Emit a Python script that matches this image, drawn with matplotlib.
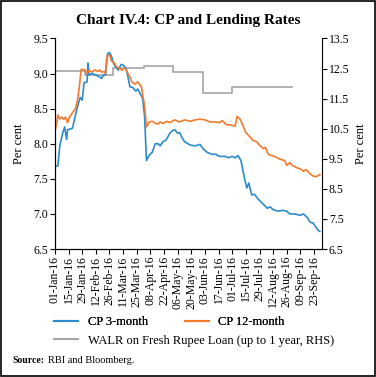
import pandas as pd
import matplotlib
matplotlib.use("Agg")
import matplotlib.pyplot as plt
import matplotlib.dates as mdates
from matplotlib.lines import Line2D
from matplotlib.patches import Rectangle

# CP 3-month (LHS), per cent
cp3_dates = [
    "01-01", "01-04", "01-06", "01-09", "01-11", "01-13", "01-14", "01-19", "01-22", "01-25",
    "01-27", "01-29", "01-31", "02-03", "02-04", "02-05", "02-08", "02-12", "02-16", "02-18",
    "02-20", "02-22", "02-24", "02-26", "02-28", "03-01", "03-03", "03-06", "03-09", "03-11",
    "03-14", "03-16", "03-18", "03-21", "03-24", "03-26", "03-29", "03-31", "04-02", "04-04",
    "04-07", "04-10", "04-13", "04-16", "04-18", "04-21", "04-24", "04-28", "04-30", "05-03",
    "05-06", "05-08", "05-10", "05-13", "05-19", "05-24", "05-29", "06-01", "06-05", "06-10",
    "06-14", "06-18", "06-24", "06-27", "07-01", "07-04", "07-07", "07-10", "07-14", "07-16",
    "07-18", "07-21", "07-24", "07-27", "08-01", "08-06", "08-09", "08-12", "08-17", "08-22",
    "08-26", "08-29", "09-03", "09-09", "09-12", "09-16", "09-19", "09-22", "09-25", "09-27",
    "09-29",
]
cp3_vals = [
    7.68, 7.68, 7.97, 8.15, 8.24, 8.06, 8.20, 8.22, 8.40, 8.57,
    8.66, 8.62, 8.87, 8.88, 9.15, 8.98, 9.00, 8.98, 8.95, 8.93,
    8.98, 8.98, 9.28, 9.30, 9.25, 9.15, 9.10, 9.05, 9.13, 9.12,
    9.08, 8.95, 8.81, 8.80, 8.75, 8.78, 8.70, 8.65, 8.40, 7.76,
    7.84, 7.88, 8.00, 8.00, 7.97, 8.03, 8.05, 8.15, 8.18, 8.20,
    8.15, 8.16, 8.10, 8.03, 7.98, 7.97, 7.99, 7.93, 7.88, 7.85,
    7.85, 7.82, 7.82, 7.80, 7.82, 7.80, 7.83, 7.76, 7.48, 7.37,
    7.44, 7.27, 7.28, 7.22, 7.15, 7.08, 7.10, 7.06, 7.04, 7.05,
    7.04, 7.00, 7.00, 6.98, 7.00, 6.95, 6.88, 6.87, 6.81, 6.77,
    6.75,
]

# CP 12-month (LHS), per cent
cp12_dates = [
    "01-01", "01-03", "01-04", "01-06", "01-08", "01-10", "01-12", "01-14", "01-16", "01-18",
    "01-22", "01-24", "01-26", "01-28", "02-01", "02-03", "02-05", "02-08", "02-11", "02-14",
    "02-16", "02-18", "02-21", "02-22", "02-23", "02-24", "02-26", "02-28", "03-02", "03-04",
    "03-06", "03-10", "03-13", "03-16", "03-18", "03-20", "03-23", "03-26", "03-28", "03-30",
    "03-31", "04-02", "04-04", "04-07", "04-10", "04-13", "04-16", "04-18", "04-21", "04-25",
    "04-28", "05-03", "05-08", "05-13", "05-19", "05-24", "05-29", "06-03", "06-08", "06-13",
    "06-18", "06-21", "06-25", "06-29", "07-04", "07-06", "07-09", "07-12", "07-15", "07-19",
    "07-22", "07-26", "07-29", "08-02", "08-04", "08-07", "08-11", "08-15", "08-19", "08-24",
    "08-26", "08-29", "09-01", "09-05", "09-09", "09-12", "09-15", "09-19", "09-22", "09-25",
    "09-29",
]
cp12_vals = [
    8.17, 8.30, 8.41, 8.35, 8.38, 8.35, 8.38, 8.30, 8.38, 8.42,
    8.50, 8.60, 8.80, 9.06, 9.05, 9.00, 9.05, 9.02, 9.05, 9.03,
    9.05, 9.02, 9.03, 9.00, 9.20, 9.25, 9.27, 9.18, 9.15, 9.10,
    9.08, 9.05, 9.08, 9.00, 8.95, 8.88, 8.85, 8.88, 8.85, 8.80,
    8.70, 8.55, 8.24, 8.31, 8.32, 8.29, 8.28, 8.31, 8.29, 8.32,
    8.30, 8.34, 8.31, 8.34, 8.32, 8.34, 8.35, 8.34, 8.31, 8.31,
    8.30, 8.33, 8.27, 8.27, 8.25, 8.39, 8.35, 8.26, 8.16, 8.10,
    8.05, 8.03, 7.98, 7.93, 7.95, 7.85, 7.83, 7.81, 7.78, 7.76,
    7.69, 7.73, 7.69, 7.66, 7.64, 7.61, 7.63, 7.57, 7.54, 7.53,
    7.56,
]

# WALR on fresh rupee loans (RHS), monthly, per cent
walr_dates = ["01-01", "02-01", "03-01", "04-01", "05-01", "06-01", "07-01", "08-01", "08-31"]
walr_vals = [12.42, 12.27, 12.52, 12.60, 12.37, 11.67, 11.90, 11.88, 11.88]

BLUE = "#2c8ccb"
ORANGE = "#f47a2e"
GREY = "#a5a5a5"


def to_dates(md):
    return pd.to_datetime(["2016-" + d for d in md])


def draw():
    plt.rcParams["font.family"] = "Liberation Serif"
    fig = plt.figure(figsize=(3.76, 3.77), dpi=100)
    ax = fig.add_axes([0.146, 0.3395, 0.71, 0.5585])
    ax2 = ax.twinx()

    ax.plot(to_dates(cp3_dates), cp3_vals, color=BLUE, lw=1.2)
    ax.plot(to_dates(cp12_dates), cp12_vals, color=ORANGE, lw=1.2)
    ax2.plot(to_dates(walr_dates), walr_vals, color=GREY, lw=1.2, drawstyle="steps-post")
    ax.set_zorder(ax2.get_zorder() + 1)
    ax.patch.set_visible(False)

    ax.set_xlim(pd.Timestamp("2016-01-01"), pd.Timestamp("2016-10-01"))
    ax.set_ylim(6.5, 9.5)
    ax.set_yticks([6.5, 7.0, 7.5, 8.0, 8.5, 9.0, 9.5])
    ax.yaxis.set_major_formatter(plt.FormatStrFormatter("%.1f"))
    ax2.set_ylim(6.5, 13.5)
    ax2.set_yticks([6.5, 7.5, 8.5, 9.5, 10.5, 11.5, 12.5, 13.5])

    ticks = pd.date_range("2016-01-01", "2016-09-23", freq="14D")
    ax.set_xticks(ticks)
    ax.xaxis.set_major_formatter(mdates.DateFormatter("%d-%b-%y"))
    for lbl in ax.get_xticklabels():
        lbl.set_rotation(90)

    for a in (ax, ax2):
        a.spines["top"].set_visible(False)
        a.tick_params(length=3.5, width=0.8, labelsize=8.5, pad=1.5, direction="out")
    ax.spines["right"].set_visible(False)
    ax.set_ylabel("Per cent", fontsize=9, labelpad=6)
    ax2.set_ylabel("Per cent", fontsize=9, labelpad=4)

    fig.text(0.5, 0.945, "Chart IV.4: CP and Lending Rates", ha="center", va="center",
             fontsize=11, fontweight="bold")

    h1 = Line2D([], [], color=BLUE, lw=1.5)
    h2 = Line2D([], [], color=ORANGE, lw=1.5)
    h3 = Line2D([], [], color=GREY, lw=1.5)
    leg1 = fig.legend([h1, h2], ["CP 3-month", "CP 12-month"], ncol=2, loc="center left",
                      bbox_to_anchor=(0.115, 0.146), frameon=False, fontsize=9,
                      handlelength=1.9, handletextpad=0.75, columnspacing=3.0)
    fig.add_artist(leg1)
    fig.legend([h3], ["WALR on Fresh Rupee Loan (up to 1 year, RHS)"], loc="center left",
               bbox_to_anchor=(0.115, 0.096), frameon=False, fontsize=9,
               handlelength=1.9, handletextpad=0.75)

    # source line: bold label, then the plain text right after it
    src = fig.text(0.032, 0.044, "Source:", fontsize=7, fontweight="bold", va="center")
    ax2.annotate("RBI and Bloomberg.", xy=(1, 0.5), xycoords=src, xytext=(2.5, 0),
                 textcoords="offset points", fontsize=7.5, va="center")

    fig.add_artist(Rectangle((0.002, 0.002), 0.996, 0.996, transform=fig.transFigure,
                             fill=False, edgecolor="black", lw=1.2))
    fig.savefig("out.png", dpi=100)


def main():
    draw()


if __name__ == "__main__":
    main()
